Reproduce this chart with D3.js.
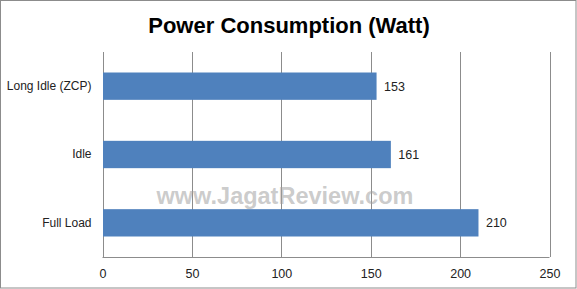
<!DOCTYPE html>
<html>
<head>
<meta charset="utf-8">
<script src="https://cdn.jsdelivr.net/npm/d3@7"></script>
<style>
  body { margin: 0; background: #fff; }
</style>
</head>
<body>
<svg id="chart"></svg>
<script>
const categories = ['Long Idle (ZCP)', 'Idle', 'Full Load']
const values = [153, 161, 210]
const xTicks = [0, 50, 100, 150, 200, 250]

const width = 577
const height = 289
const marginLeft = 102.5
const marginRight = 27.5
const marginTop = 52
const marginBottom = 32
const font = '"Liberation Sans", Arial, sans-serif'

const svg = d3.select('#chart')
  .attr('width', width)
  .attr('height', height)
  .attr('viewBox', [0, 0, width, height])

// outer frame
svg.append('rect')
  .attr('x', 0.5).attr('y', 0.5)
  .attr('width', width - 1.5).attr('height', height - 1.5)
  .attr('fill', '#fff')
  .attr('stroke', '#8c8c8c')

const x = d3.scaleLinear([0, 250], [marginLeft, width - marginRight])
const y = d3.scaleBand(categories, [marginTop, height - marginBottom])
  .paddingInner(0.6)
  .paddingOuter(0.3)

// title
svg.append('text')
  .attr('x', 289)
  .attr('y', 33)
  .attr('text-anchor', 'middle')
  .attr('font-family', font)
  .attr('font-weight', 'bold')
  .attr('font-size', 22)
  .attr('fill', '#000')
  .text('Power Consumption (Watt)')

// gridlines
svg.append('g')
  .selectAll('line')
  .data(xTicks)
  .join('line')
    .attr('x1', d => Math.round(x(d)) + 0.5)
    .attr('x2', d => Math.round(x(d)) + 0.5)
    .attr('y1', marginTop)
    .attr('y2', height - marginBottom)
    .attr('stroke', '#8c8c8c')

// bottom axis line
svg.append('line')
  .attr('x1', x(0)).attr('x2', x(250))
  .attr('y1', height - marginBottom + 0.5)
  .attr('y2', height - marginBottom + 0.5)
  .attr('stroke', '#8c8c8c')

// watermark
svg.append('text')
  .attr('x', 285)
  .attr('y', 204)
  .attr('text-anchor', 'middle')
  .attr('font-family', font)
  .attr('font-weight', 'bold')
  .attr('font-size', 23.5)
  .attr('fill', '#a0a0a0')
  .attr('fill-opacity', 0.55)
  .text('www.JagatReview.com')

// bars
svg.append('g')
  .selectAll('rect')
  .data(values)
  .join('rect')
    .attr('x', x(0) + 0.5)
    .attr('y', (d, i) => y(categories[i]))
    .attr('width', d => x(d) - x(0))
    .attr('height', y.bandwidth())
    .attr('fill', '#4f81bd')

// value labels
svg.append('g')
  .selectAll('text')
  .data(values)
  .join('text')
    .attr('x', d => x(d) + 8)
    .attr('y', (d, i) => y(categories[i]) + y.bandwidth() / 2)
    .attr('dy', '0.35em')
    .attr('font-family', font)
    .attr('font-size', 12.5)
    .attr('fill', '#222')
    .text(d => d)

// category axis
const yAxis = d3.axisLeft(y).tickSize(0).tickPadding(11)
svg.append('g')
  .attr('transform', `translate(${marginLeft},0)`)
  .call(yAxis)
  .call(g => g.select('.domain').remove())
  .call(g => g.selectAll('text')
    .attr('font-family', font)
    .attr('font-size', 12)
    .attr('fill', '#222'))

// value axis
const xAxis = d3.axisBottom(x).tickValues(xTicks).tickSize(0).tickPadding(12)
svg.append('g')
  .attr('transform', `translate(0,${height - marginBottom})`)
  .call(xAxis)
  .call(g => g.select('.domain').remove())
  .call(g => g.selectAll('text')
    .attr('font-family', font)
    .attr('font-size', 12.5)
    .attr('fill', '#222'))
</script>
</body>
</html>
